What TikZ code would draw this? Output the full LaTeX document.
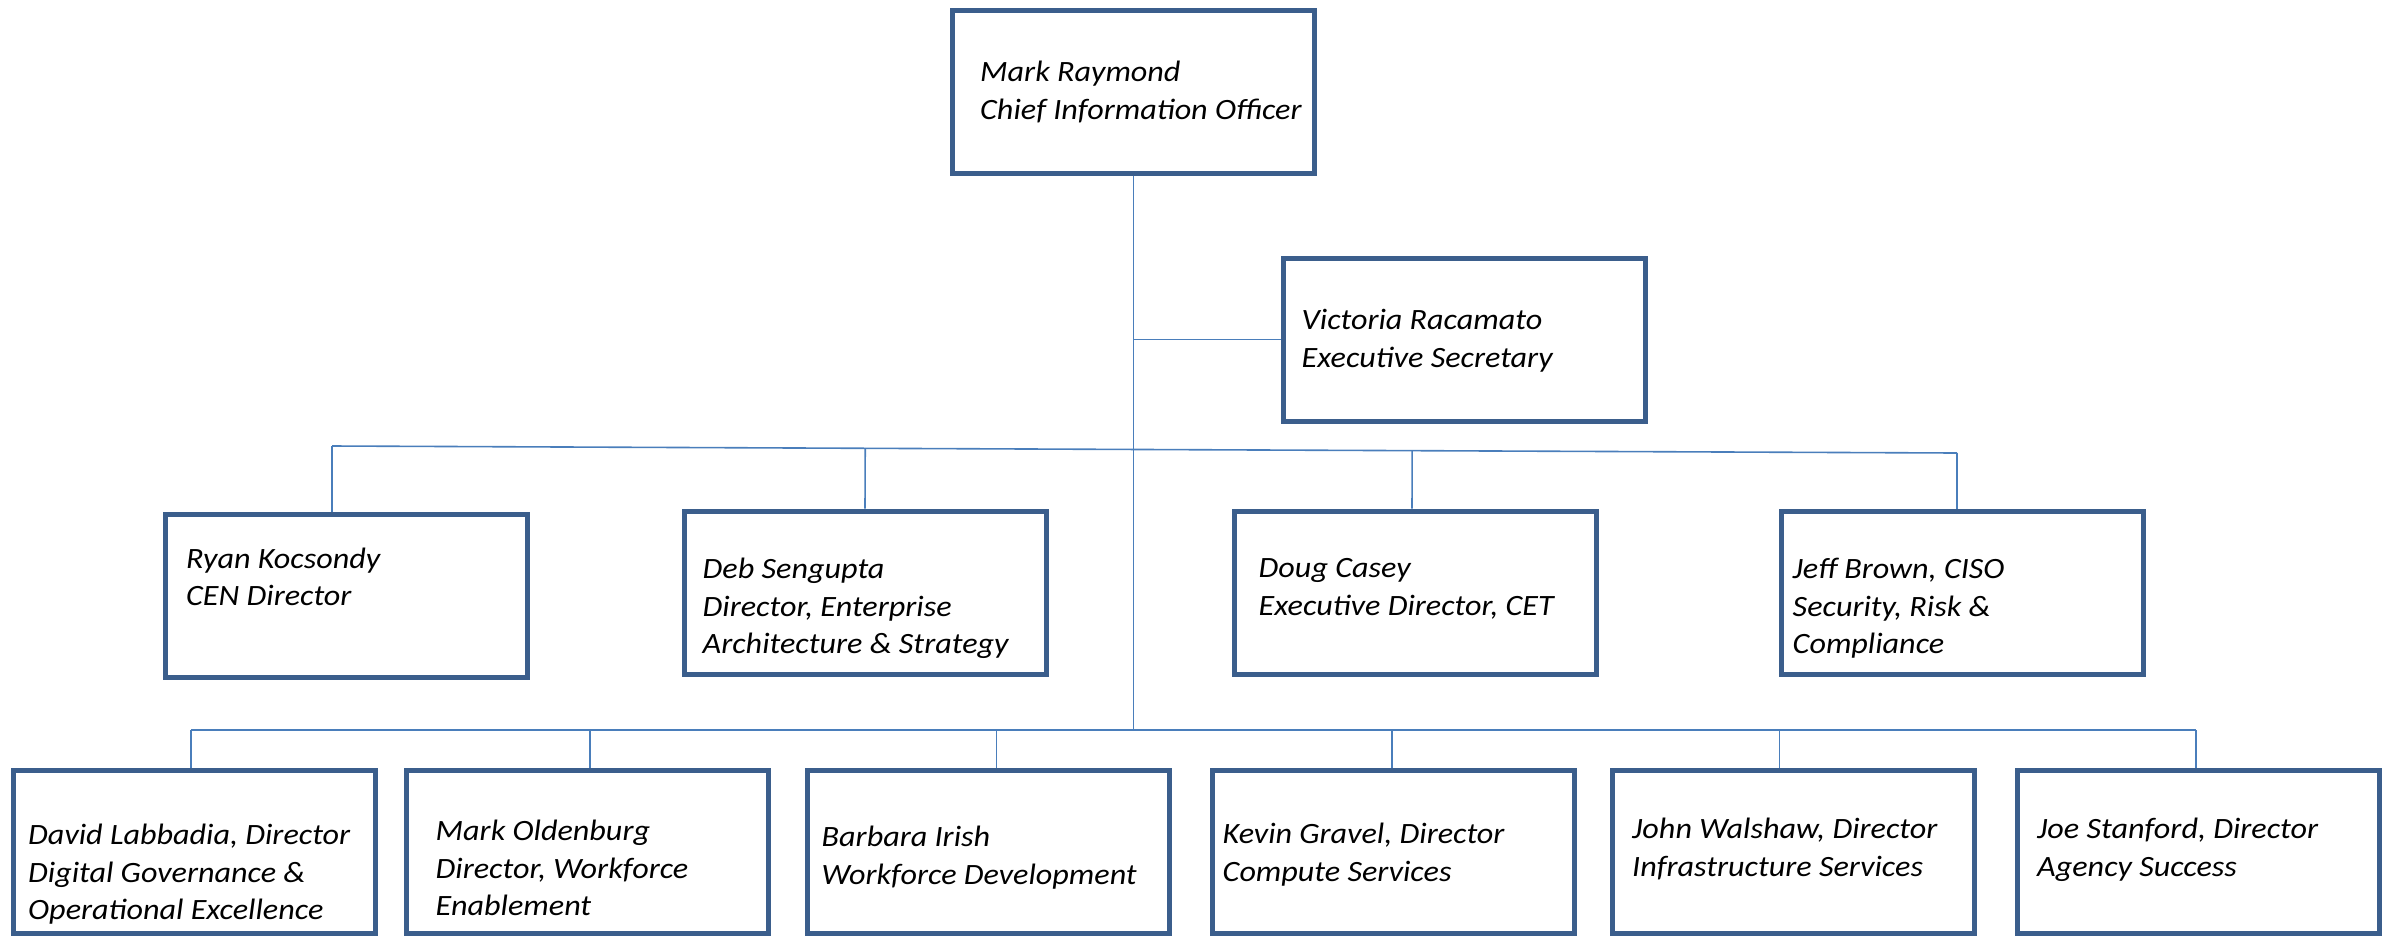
\documentclass[tikz,border=0pt]{standalone}
\usepackage{fontspec}
\setmainfont{Carlito}[FakeStretch=1.09]
\usetikzlibrary{calc}

\definecolor{boxblue}{HTML}{3B5E8C}
\definecolor{lineblue}{HTML}{4A7EBB}

\begin{document}
\begin{tikzpicture}[x=1pt, y=-1pt,
                    main node/.style={rectangle,draw=boxblue,line width=5pt,minimum width=362pt,minimum height=163pt,inner sep=0pt},
                    name text/.style={anchor=west,align=left,inner sep=0pt,yshift=-4.5pt,font=\fontsize{29.5}{37.5}\selectfont\itshape,
                                      execute at begin node=\strut,execute at end node=\strut},
                    link/.style={draw=lineblue,line width=1.6pt}]

  \useasboundingbox (0,0) rectangle (2395,935);

  % boxes
  \node[main node] (1) at (1133.5,91.5) {};
  \node[main node] (2) at (1464,339.5) {};
  \node[main node] (3) at (346.5,595.5) {};
  \node[main node] (4) at (865,592.5) {};
  \node[main node] (5) at (1415,592.5) {};
  \node[main node] (6) at (1962,592.5) {};
  \node[main node] (7) at (194.5,852) {};
  \node[main node] (8) at (587,852) {};
  \node[main node] (9) at (988.5,852) {};
  \node[main node] (10) at (1393,852) {};
  \node[main node] (11) at (1793.5,852) {};
  \node[main node] (12) at (2198.5,852) {};

  % names
  \node[name text] (1t) at ([xshift=30]1.west) {Mark Raymond\\Chief Information Officer};
  \node[name text] (2t) at ([xshift=21]2.west) {Victoria Racamato\\Executive Secretary};
  \node[name text] (3t) at ([xshift=23,yshift=17.5]3.west) {Ryan Kocsondy\\CEN Director};
  \node[name text] (4t) at ([xshift=21,yshift=-14.5]4.west) {Deb Sengupta\\Director, Enterprise\\Architecture \& Strategy};
  \node[name text] (5t) at ([xshift=27,yshift=4.5]5.west) {Doug Casey\\Executive Director, CET};
  \node[name text] (6t) at ([xshift=14,yshift=-14.5]6.west) {Jeff Brown, CISO\\Security, Risk \&\\Compliance};
  \node[name text] (7t) at ([xshift=17,yshift=-21]7.west) {David Labbadia, Director\\Digital Governance \&\\Operational Excellence};
  \node[name text] (8t) at ([xshift=32,yshift=-17]8.west) {Mark Oldenburg\\Director, Workforce\\Enablement};
  \node[name text] (9t) at ([xshift=16.5,yshift=-4.5]9.west) {Barbara Irish\\Workforce Development};
  \node[name text] (10t) at ([xshift=13,yshift=-1.5]10.west) {Kevin Gravel, Director\\Compute Services};
  \node[name text] (11t) at ([xshift=22,yshift=3.5]11.west) {John Walshaw, Director\\Infrastructure Services};
  \node[name text] (12t) at ([xshift=22,yshift=3.5]12.west) {Joe Stanford, Director\\Agency Success};

  % buses
  \coordinate (bus2a) at (332,446);
  \coordinate (bus2b) at (1957,453);
  \coordinate (bus3a) at (191,730);
  \coordinate (bus3b) at (2196,730);

  \draw[link] (1.south) -- (1.south |- bus3a);
  \draw[link] (2.west) -- (2.west -| 1.south);

  \draw[link] (bus2a) -- (bus2b);
  \draw[link] (bus2a) -- ([xshift=-14.5]3.north);
  \draw[link] (4.north) -- ($(bus2a)!(4.north)!(bus2b)$);
  \draw[link] ([xshift=-3]5.north) -- ($(bus2a)!([xshift=-3]5.north)!(bus2b)$);
  \draw[link] (bus2b) -- ([xshift=-5]6.north);

  \draw[link] (bus3a) -- (bus3b);
  \draw[link] (bus3a) -- ([xshift=-3.5]7.north);
  \draw[link] ([xshift=3]8.north) -- ([xshift=3]8.north |- bus3a);
  \draw[link] ([xshift=8]9.north) -- ([xshift=8]9.north |- bus3a);
  \draw[link] ([xshift=-1]10.north) -- ([xshift=-1]10.north |- bus3a);
  \draw[link] ([xshift=-14]11.north) -- ([xshift=-14]11.north |- bus3a);
  \draw[link] (bus3b) -- ([xshift=-2.5]12.north);

\end{tikzpicture}
\end{document}
